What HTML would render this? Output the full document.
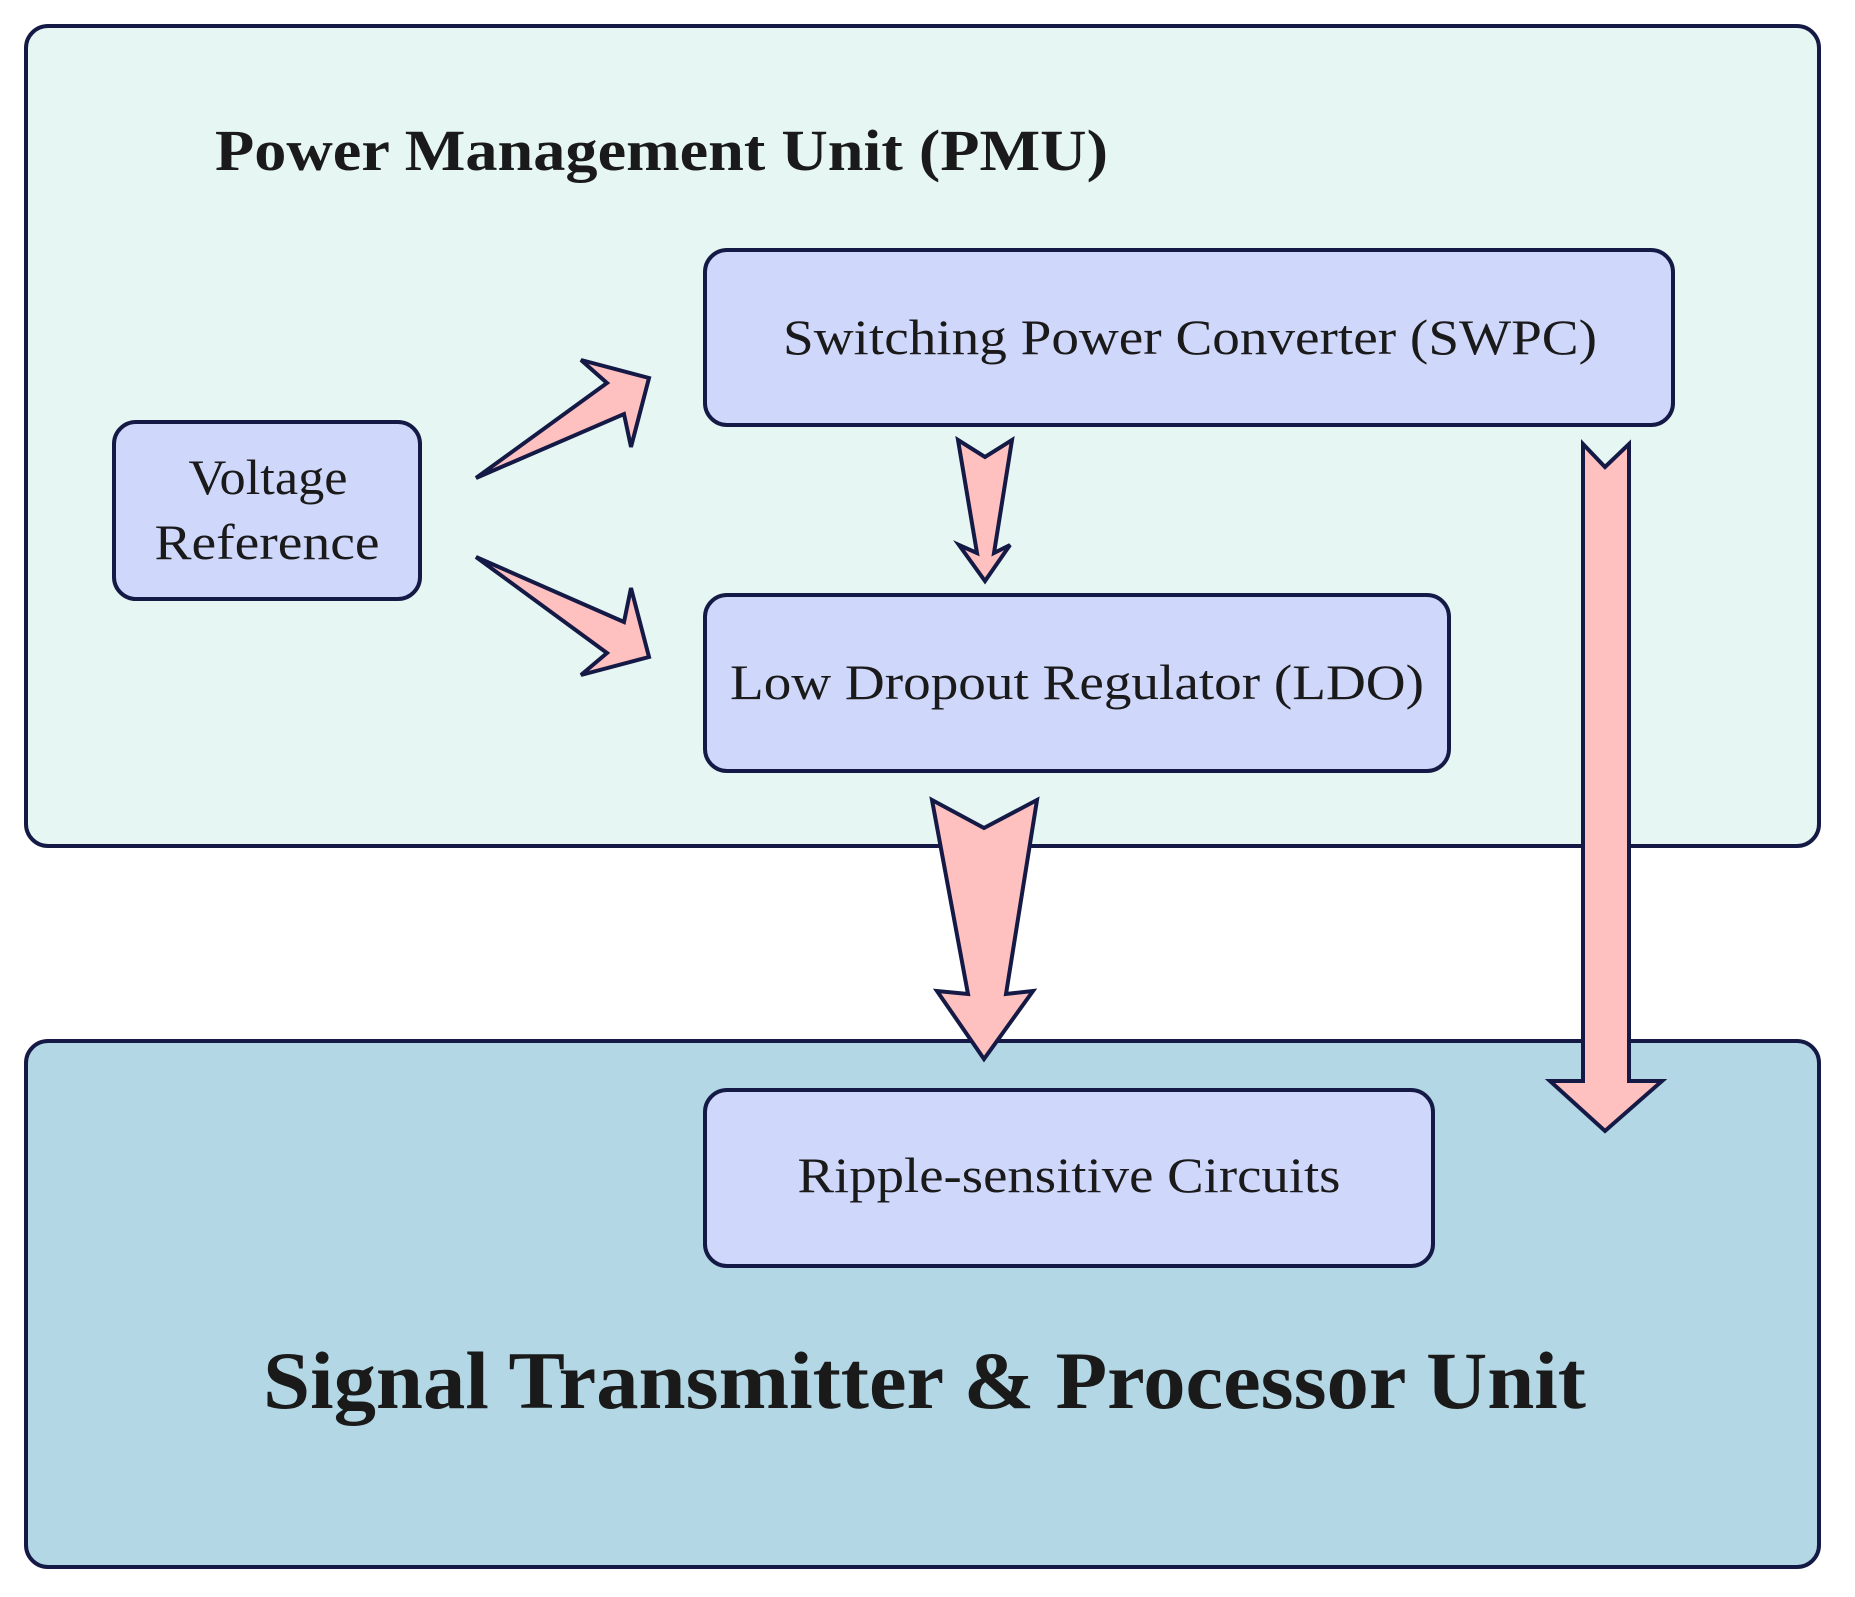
<!DOCTYPE html>
<html><head><meta charset="utf-8"><style>html,body{margin:0;padding:0;background:#fff}svg{display:block}</style></head>
<body>
<svg width="1855" height="1597" viewBox="0 0 1855 1597" xmlns="http://www.w3.org/2000/svg" font-family="'Liberation Serif', serif">
<g stroke="#141a45" stroke-width="4" stroke-linejoin="miter">
<rect x="26" y="26" width="1793" height="820" rx="22" fill="#e6f6f3"/>
<rect x="26" y="1041" width="1793" height="526" rx="22" fill="#b3d7e5"/>
<rect x="705" y="250" width="968" height="175" rx="22" fill="#cfd7fb"/>
<rect x="114" y="422" width="306" height="177" rx="22" fill="#cfd7fb"/>
<rect x="705" y="595" width="744" height="176" rx="22" fill="#cfd7fb"/>
<rect x="705" y="1090" width="728" height="176" rx="22" fill="#cfd7fb"/>
<g fill="#ffc0c0">
<polygon points="476,478 607,383 581,360 649,378 631,447 624,414"/>
<polygon points="476,557 624,622 631,588 649,657 581,675 607,653"/>
<polygon points="958,440 985,457 1012,440 994,553 1010,545 985,581 959,545 977,553"/>
<polygon points="932,800 984,828 1037,800 1006,994 1033,991 984,1059 937,991 968,994"/>
<polygon points="1583,444 1605,467 1629,444 1629,1081 1662,1081 1605,1131 1550,1081 1583,1081"/>
</g>
</g>
<g fill="#1a1a1a">
<text x="215" y="170" font-size="58" font-weight="bold" textLength="893" lengthAdjust="spacingAndGlyphs">Power Management Unit (PMU)</text>
<text x="1190" y="354" font-size="50" text-anchor="middle" textLength="814" lengthAdjust="spacingAndGlyphs">Switching Power Converter (SWPC)</text>
<text x="268" y="494" font-size="50" text-anchor="middle" textLength="159" lengthAdjust="spacingAndGlyphs">Voltage</text>
<text x="267" y="559" font-size="50" text-anchor="middle" textLength="225" lengthAdjust="spacingAndGlyphs">Reference</text>
<text x="1077" y="699" font-size="50" text-anchor="middle" textLength="694" lengthAdjust="spacingAndGlyphs">Low Dropout Regulator (LDO)</text>
<text x="1069" y="1192" font-size="50" text-anchor="middle" textLength="543" lengthAdjust="spacingAndGlyphs">Ripple-sensitive Circuits</text>
<text x="263" y="1408" font-size="82" font-weight="bold" textLength="1323" lengthAdjust="spacingAndGlyphs">Signal Transmitter &amp; Processor Unit</text>
</g>
</svg>
</body></html>
